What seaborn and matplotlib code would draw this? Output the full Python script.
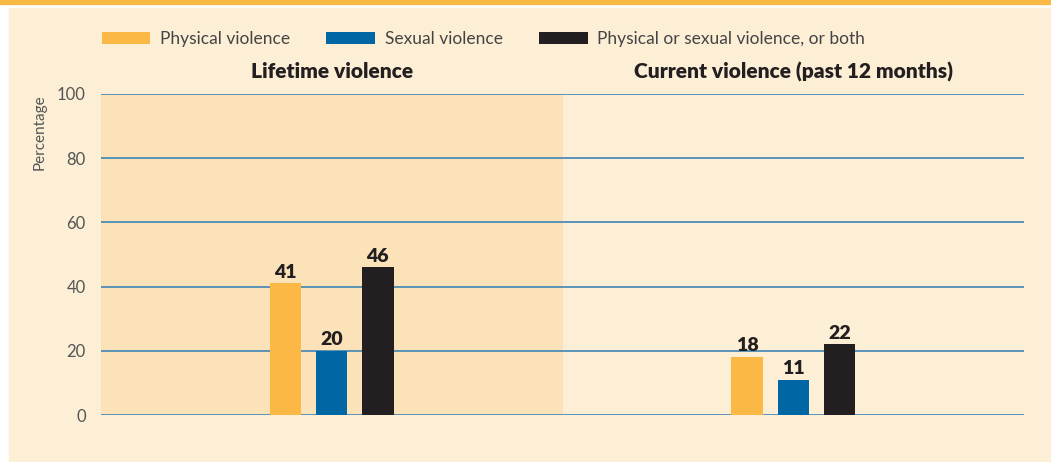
import pandas as pd
import matplotlib.pyplot as plt
import seaborn as sns
from matplotlib.patches import Rectangle, Patch

periods = ["Lifetime violence", "Current violence (past 12 months)"]
types = ["Physical violence", "Sexual violence", "Physical or sexual violence, or both"]
physical = [41, 18]
sexual = [20, 11]
both = [46, 22]
yticks = [0, 20, 40, 60, 80, 100]

colors = ["#fbb845", "#0066a4", "#231f20"]
cream = "#fdeed6"
peach = "#fce2b9"
grid_blue = "#2d7bb3"

df = pd.DataFrame({
    "period": periods * 3,
    "type": [t for t in types for _ in periods],
    "value": physical + sexual + both,
})

sns.set_style("white")
plt.rcParams["font.family"] = ["Lato", "DejaVu Sans"]

fig = plt.figure(figsize=(10.51, 4.62), dpi=100)
W, H = 1051, 462

# page decoration
fig.patches.append(Rectangle((0, 1 - 4 / H), 1, 4 / H, transform=fig.transFigure,
                             color="#fbb845", zorder=-5))
fig.patches.append(Rectangle((9 / W, 0), 1 - 9 / W, 1 - 8 / H, transform=fig.transFigure,
                             color=cream, zorder=-5))

ax = fig.add_axes([101 / W, 1 - 415 / H, (1024 - 101) / W, (415 - 94) / H])
ax.set_facecolor(cream)
ax.axvspan(-0.5, 0.5, color=peach, zorder=0, lw=0)

sns.barplot(data=df, x="period", y="value", hue="type", hue_order=types,
            palette=colors, width=0.3, gap=0.32, saturation=1, linewidth=0,
            legend=False, ax=ax)

for c in ax.containers:
    ax.bar_label(c, padding=2, fontsize=14, fontweight="heavy", color="#231f20")

ax.set_xlim(-0.5, 1.5)
ax.set_ylim(0, 100)
ax.set_yticks(yticks)
ax.set_axisbelow(True)
ax.yaxis.grid(True, color=grid_blue, lw=1.1)
ax.xaxis.grid(False)
for s in ax.spines.values():
    s.set_visible(False)

ax.xaxis.tick_top()
ax.tick_params(axis="x", length=0, pad=9, labelsize=15)
for lbl in ax.get_xticklabels():
    lbl.set_fontweight("heavy")
    lbl.set_color("#231f20")
ax.tick_params(axis="y", length=0, pad=11, labelsize=12, labelcolor="#555555")
ax.set_xlabel("")
ax.set_ylabel("")

fig.text(40 / W, 1 - 94 / H, "Percentage", rotation=90, ha="center", va="top",
         fontsize=11, color="#555555")

handles = [Patch(facecolor=c, edgecolor="none") for c in colors]
fig.legend(handles, types, loc="center left", bbox_to_anchor=(86 / W, 1 - 39 / H),
           ncol=3, frameon=False, fontsize=12.5, handlelength=2.8, handleheight=0.75,
           handletextpad=0.55, columnspacing=2.1, labelcolor="#444444")

fig.savefig("out.png", dpi=100)
